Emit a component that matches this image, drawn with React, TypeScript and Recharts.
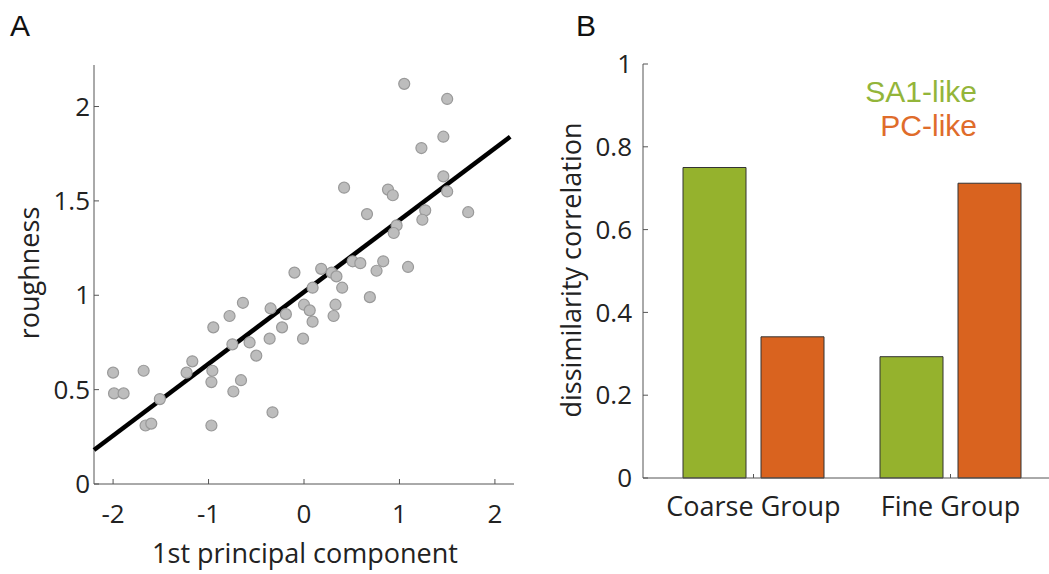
import React from "react";
import { ScatterChart, Scatter, XAxis, YAxis, BarChart, Bar } from "recharts";

// panel A: texture scores on 1st PC vs perceived roughness
const pcScores = [
  1.05, 1.5, 1.46, 1.23, 0.42, 0.88, 0.93, 1.46, 1.5, 1.72, 1.27, 1.24, 0.66, 0.97, 0.94,
  0.51, 0.59, 0.83, 0.76, 1.09, -0.1, 0.18, 0.29, 0.34, -0.64, -0.78, -0.95, -0.35, -0.19,
  -0.23, -0.75, -0.57, -0.36, -0.5, -0.01, -1.17, -1.23, -0.96, -0.97, -0.66, -0.74, -0.33,
  -2.0, -1.68, -1.99, -1.89, -1.51, -1.66, -1.6, -0.97, 0.09, 0.4, 0.69, 0.0, 0.06, 0.33,
  0.09, 0.31,
];
const roughness = [
  2.12, 2.04, 1.84, 1.78, 1.57, 1.56, 1.53, 1.63, 1.55, 1.44, 1.45, 1.4, 1.43, 1.37, 1.33,
  1.18, 1.17, 1.18, 1.13, 1.15, 1.12, 1.14, 1.12, 1.1, 0.96, 0.89, 0.83, 0.93, 0.9, 0.83,
  0.74, 0.75, 0.77, 0.68, 0.77, 0.65, 0.59, 0.6, 0.54, 0.55, 0.49, 0.38, 0.59, 0.6, 0.48,
  0.48, 0.45, 0.31, 0.32, 0.31, 1.04, 1.04, 0.99, 0.95, 0.92, 0.95, 0.86, 0.89,
];
// least-squares fit endpoints
const fitX = [-2.2, 2.16];
const fitY = [0.18, 1.84];

// panel B
const groups = ["Coarse Group", "Fine Group"];
const sa1Like = [0.75, 0.293];
const pcLike = [0.341, 0.712];

const TICK_FONT = "'Open Sans', sans-serif";
const AXIS = "#555";

const scatterData = pcScores.map((x, i) => ({ x, y: roughness[i] }));
const fitData = fitX.map((x, i) => ({ x, y: fitY[i] }));
const barData = groups.map((group, i) => ({ group, sa1: sa1Like[i], pc: pcLike[i] }));

const tickStyle = { fill: "#222", fontSize: 26, fontFamily: TICK_FONT };

const Dot = (props: any) => (
  <circle cx={props.cx} cy={props.cy} r={5.5} fill="#bdbdbd" stroke="#999" strokeWidth={1.2} />
);

export default function App() {
  return (
    <div
      style={{
        position: "absolute",
        left: 0,
        top: 0,
        width: 1049,
        height: 574,
        background: "#fff",
        overflow: "hidden",
      }}
    >
      <div style={{ position: "absolute", left: 0, top: 0 }}>
        <ScatterChart width={530} height={574} margin={{ top: 65, right: 16, bottom: 0, left: 0 }}>
          <XAxis
            type="number"
            dataKey="x"
            domain={[-2.2, 2.2]}
            ticks={[-2, -1, 0, 1, 2]}
            height={90}
            tickSize={-5}
            tickMargin={26}
            interval={0}
            stroke={AXIS}
            tick={tickStyle}
          />
          <YAxis
            type="number"
            dataKey="y"
            domain={[0, 2.22]}
            ticks={[0, 0.5, 1, 1.5, 2]}
            width={94}
            tickSize={-5}
            tickMargin={9}
            interval={0}
            stroke={AXIS}
            tick={tickStyle}
          />
          <Scatter
            data={fitData}
            line={{ stroke: "#000", strokeWidth: 4.5 }}
            shape={() => <g />}
            isAnimationActive={false}
          />
          <Scatter data={scatterData} shape={Dot} isAnimationActive={false} />
        </ScatterChart>
      </div>

      <div style={{ position: "absolute", left: 530, top: 0 }}>
        <BarChart
          width={519}
          height={574}
          data={barData}
          margin={{ top: 64, right: 0, bottom: 0, left: 0 }}
          barCategoryGap={28}
          barGap={15}
        >
          <XAxis
            dataKey="group"
            padding={{ left: 12, right: 0 }}
            height={96}
            tickSize={-4}
            tickMargin={23}
            interval={0}
            stroke={AXIS}
            tick={{ ...tickStyle, fontSize: 27 }}
          />
          <YAxis
            domain={[0, 1]}
            ticks={[0, 0.2, 0.4, 0.6, 0.8, 1]}
            width={113}
            tickSize={-5}
            tickMargin={16}
            interval={0}
            stroke={AXIS}
            tick={tickStyle}
          />
          <Bar dataKey="sa1" fill="#95b22d" stroke="#333" strokeWidth={1} isAnimationActive={false} />
          <Bar dataKey="pc" fill="#d9631f" stroke="#333" strokeWidth={1} isAnimationActive={false} />
        </BarChart>
      </div>

      <svg
        width={1049}
        height={574}
        style={{ position: "absolute", left: 0, top: 0, pointerEvents: "none" }}
      >
        <g fontFamily="'Liberation Sans', Arial, sans-serif" fontSize={30} fill="#111">
          <text x={10} y={36}>A</text>
          <text x={576} y={36}>B</text>
        </g>
        <g fontFamily={TICK_FONT} fontSize={27} fill="#222" textAnchor="middle">
          <text transform="translate(39,273) rotate(-90)">roughness</text>
          <text transform="translate(581,270) rotate(-90)">dissimilarity correlation</text>
        </g>
        <text x={305} y={563} fontFamily={TICK_FONT} fontSize={27} fill="#222" textAnchor="middle">
          1st principal component
        </text>
        <g fontFamily="'Liberation Sans', Arial, sans-serif" fontSize={30} textAnchor="end">
          <text x={977} y={102} fill="#93b53a">SA1-like</text>
          <text x={977} y={136} fill="#df6c2b">PC-like</text>
        </g>
      </svg>
    </div>
  );
}
